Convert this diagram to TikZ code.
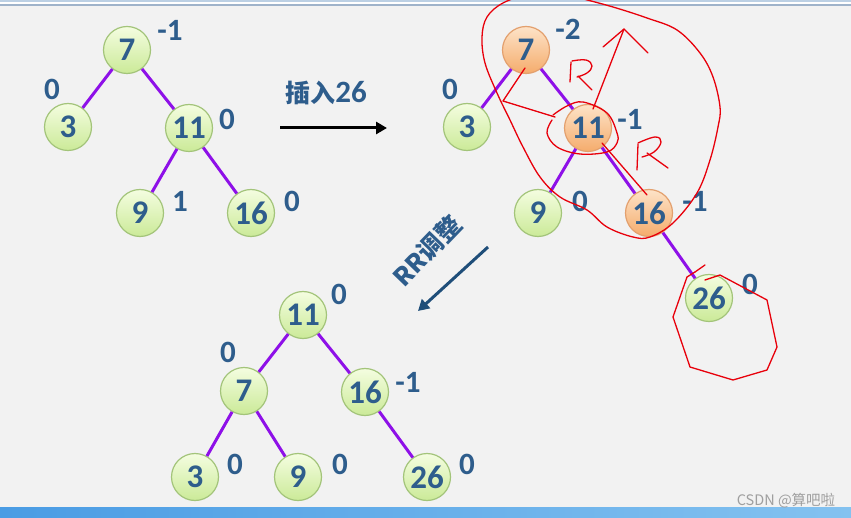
\documentclass[tikz,border=0pt]{standalone}
\usepackage{fontspec}
\setmainfont{Carlito}
\newfontfamily\cjk{Noto Sans CJK SC}
\usetikzlibrary{arrows.meta}
\definecolor{bg}{HTML}{F2F2F2}
\definecolor{txt}{HTML}{2E5D8C}
\definecolor{edgec}{HTML}{8E10E8}
\definecolor{gtop}{HTML}{F4FDE0}
\definecolor{gbot}{HTML}{CBEA98}
\definecolor{gborder}{HTML}{A3C47A}
\definecolor{otop}{HTML}{FDE3C8}
\definecolor{obot}{HTML}{F5AC6C}
\definecolor{oborder}{HTML}{E3A06E}
\definecolor{pen}{HTML}{E8000B}
\definecolor{arrblue}{HTML}{1F4E79}
\definecolor{topblue}{HTML}{BCD0E4}
\definecolor{topline}{HTML}{9FB3CA}
\definecolor{barleft}{HTML}{4A9CE4}
\definecolor{barright}{HTML}{84C2F0}
\tikzset{
  treenode/.style={circle, minimum size=47pt, inner sep=0pt, draw=gborder, line width=1.2pt,
    top color=gtop, bottom color=gbot, text=txt, font=\fontsize{33}{33}\selectfont\bfseries},
  hotnode/.style={treenode, draw=oborder, top color=otop, bottom color=obot},
  edge/.style={draw=edgec, line width=3pt},
  lab/.style={text=txt, inner sep=0pt, font=\fontsize{31}{31}\selectfont\bfseries},
  redpen/.style={draw=pen, line width=1.3pt, line join=round, line cap=round},
}
\begin{document}
\begin{tikzpicture}[x=1pt,y=-1pt]
\useasboundingbox (0,0) rectangle (851,518);
\clip (0,0) rectangle (851,518);
\fill[bg] (0,0) rectangle (851,518);
\fill[topblue] (0,0) rectangle (851,1.6);
\fill[white] (0,1.6) rectangle (851,3.6);
\fill[topline] (0,3.6) rectangle (851,5.6);
\shade[left color=barleft, right color=barright] (0,507.5) rectangle (851,518);

% ---- tree 1 ----
\node[treenode] (a7) at (127,50) {7};
\node[treenode] (a3) at (68,127) {3};
\node[treenode] (a11) at (189,128) {11};
\node[treenode] (a9) at (140,213) {9};
\node[treenode] (a16) at (251,213) {16};
\draw[edge] (a7) -- (a3);
\draw[edge] (a7) -- (a11);
\draw[edge] (a11) -- (a9);
\draw[edge] (a11) -- (a16);
\node[lab] (la7) at (170,30) {-1};
\node[lab] (la3) at (52,89) {0};
\node[lab] (la11) at (227,119) {0};
\node[lab] (la9) at (180,201) {1};
\node[lab] (la16) at (292,201) {0};

% ---- insert arrow ----
\node[text=txt, inner sep=0pt, font=\fontsize{31}{31}\selectfont\bfseries] (ins) at (326,93) {{\cjk\fontsize{25}{25}\selectfont\bfseries 插入}26};
\coordinate (i1) at (280,128);
\coordinate (i2) at (387,128);
\draw[line width=3pt, -{Triangle[length=11pt,width=12pt]}] (i1) -- (i2);

% ---- tree 2 ----
\node[hotnode] (b7) at (526,50) {7};
\node[treenode] (b3) at (467,127) {3};
\node[hotnode] (b11) at (588,128) {11};
\node[treenode] (b9) at (538,213) {9};
\node[hotnode] (b16) at (649,213) {16};
\node[treenode] (b26) at (709,298) {26};
\draw[edge] (b7) -- (b3);
\draw[edge] (b7) -- (b11);
\draw[edge] (b11) -- (b9);
\draw[edge] (b11) -- (b16);
\draw[edge] (b16) -- (b26);
\node[lab] (lb7) at (568,29) {-2};
\node[lab] (lb3) at (450,89) {0};
\node[lab] (lb11) at (630,119) {-1};
\node[lab] (lb9) at (580,201) {0};
\node[lab] (lb16) at (695,201) {-1};
\node[lab] (lb26) at (750,284) {0};

% ---- RR arrow ----
\node[text=txt, inner sep=0pt, rotate=46, font=\cjk\fontsize{25}{25}\selectfont\bfseries] (rr) at (427,251) {RR调整};
\coordinate (r1) at (488,247);
\coordinate (r2) at (418,311);
\draw[arrblue, line width=3pt, -{Triangle[length=11pt,width=12pt]}] (r1) -- (r2);

% ---- tree 3 ----
\node[treenode] (c11) at (303,315) {11};
\node[treenode] (c7) at (244,391) {7};
\node[treenode] (c16) at (365,392) {16};
\node[treenode] (c3) at (195,477) {3};
\node[treenode] (c9) at (298,477) {9};
\node[treenode] (c26) at (427,477) {26};
\draw[edge] (c11) -- (c7);
\draw[edge] (c11) -- (c16);
\draw[edge] (c7) -- (c3);
\draw[edge] (c7) -- (c9);
\draw[edge] (c16) -- (c26);
\node[lab] (lc11) at (339,294) {0};
\node[lab] (lc7) at (228,352) {0};
\node[lab] (lc16) at (408,382) {-1};
\node[lab] (lc3) at (235,464) {0};
\node[lab] (lc9) at (340,464) {0};
\node[lab] (lc26) at (467,464) {0};

% ---- red hand annotations ----
\draw[redpen] plot[smooth, tension=0.6] coordinates {
  (560,-8) (530,-6) (503,3) (487,17) (482,37) (485,63) (497,93) (510,120) (523,147)
  (540,177) (560,197) (587,210) (607,227) (633,237) (650,237) (673,223) (697,193)
  (710,160) (718,127) (720,107) (713,77) (700,53) (677,30) (647,18) (613,7) (580,-2) (560,-8)};
\draw[redpen] (525,68) -- (503,101) -- (555,117);
\draw[redpen] plot[smooth, tension=0.6] coordinates {
  (553,115) (567,106) (583,102) (607,113) (617,133) (617,143) (607,152) (580,154)
  (557,147) (547,133) (552,120)};
\draw[redpen] (593,109) -- (624,29);
\draw[redpen] (603,47) -- (624,29) -- (648,53);
\draw[redpen] (602,143) -- (647,195);
\draw[redpen] (571,62) -- (570,82);
\draw[redpen] plot[smooth, tension=0.7] coordinates {(572,61) (586,60) (592,66) (587,73) (577,77)};
\draw[redpen] (578,76) -- (592,90);
\draw[redpen] (638,144) -- (637,170);
\draw[redpen] plot[smooth, tension=0.7] coordinates {(638,143) (655,137) (661,142) (654,152) (642,157)};
\draw[redpen] (647,153) -- (668,168);
\draw[redpen] (695,272) -- (705,265);
\draw[redpen] (705,280) -- (720,275) -- (767,300) -- (777,347) -- (767,370) -- (733,380)
  -- (690,367) -- (673,317) -- (687,277) -- (695,272);

% ---- watermark ----
\node[text=gray!75, inner sep=0pt, font=\fontsize{14.5}{14.5}\selectfont] (wm) at (786,501) {\cjk CSDN @算吧啦};
\end{tikzpicture}
\end{document}
